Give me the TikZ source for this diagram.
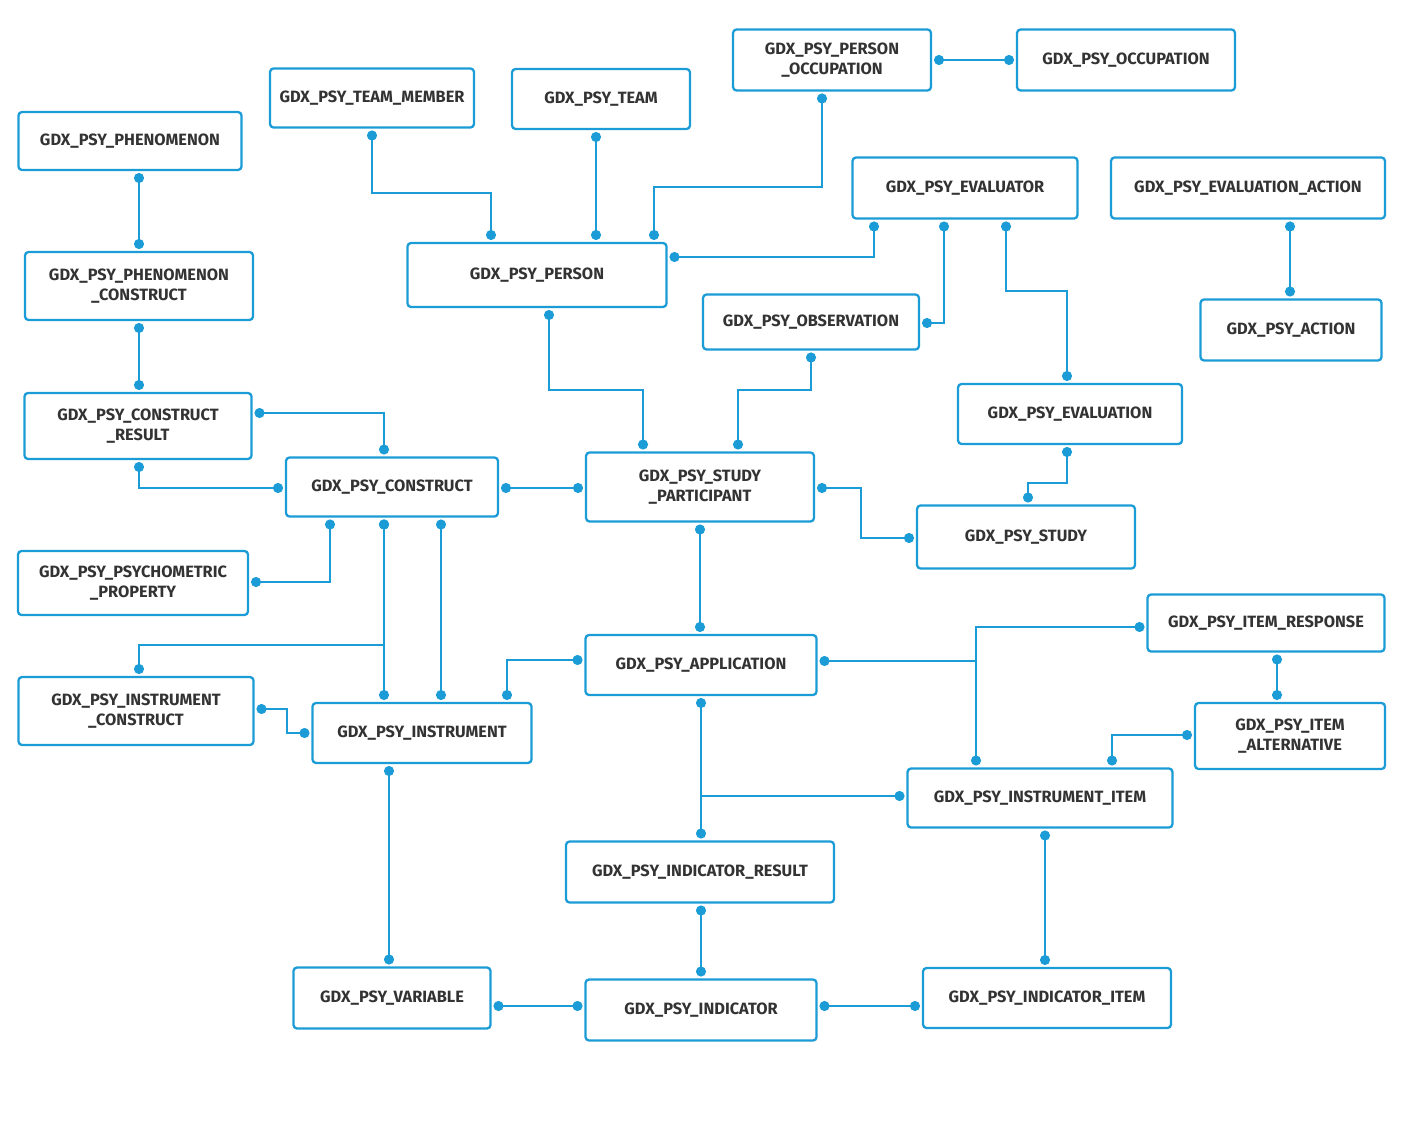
\documentclass[tikz,border=0pt]{standalone}
\usepackage{fontspec}
\setsansfont{Fira Sans}
\usetikzlibrary{arrows.meta}
\definecolor{gdxblue}{HTML}{1B9CD6}
\begin{document}
\begin{tikzpicture}[x=0.2mm, y=-0.2mm, line width=1.3pt,
    box/.style={draw=gdxblue, rounded corners=2pt, align=center, outer sep=0.6mm,
      font=\sffamily\fontsize{9.3}{11.5}\selectfont\bfseries, text=black!80, fill=white},
    link/.style={draw=gdxblue, {Circle[length=2mm]}-{Circle[length=2mm]}}]

    \useasboundingbox (0,0) rectangle (1402,1122);

    % left column
    \node[box, minimum width=44.6mm, minimum height=11.6mm] (phen) at (130,141) {GDX\_PSY\_PHENOMENON};
    \node[box, minimum width=45.6mm, minimum height=13.6mm] (phencon) at (139,286) {GDX\_PSY\_PHENOMENON\\\_CONSTRUCT};
    \node[box, minimum width=45.4mm, minimum height=13.2mm] (conres) at (138,426) {GDX\_PSY\_CONSTRUCT\\\_RESULT};
    \node[box, minimum width=42.4mm, minimum height=11.8mm] (construct) at (392,487) {GDX\_PSY\_CONSTRUCT};
    \node[box, minimum width=46mm, minimum height=12.8mm] (psyprop) at (133,583) {GDX\_PSY\_PSYCHOMETRIC\\\_PROPERTY};
    \node[box, minimum width=47mm, minimum height=13.6mm] (instcon) at (136,711) {GDX\_PSY\_INSTRUMENT\\\_CONSTRUCT};
    \node[box, minimum width=43.8mm, minimum height=12mm] (instrument) at (422,733) {GDX\_PSY\_INSTRUMENT};
    \node[box, minimum width=39.4mm, minimum height=12.2mm] (variable) at (392,998) {GDX\_PSY\_VARIABLE};

    % top row
    \node[box, minimum width=40.8mm, minimum height=11.8mm] (teammember) at (372,98) {GDX\_PSY\_TEAM\_MEMBER};
    \node[box, minimum width=35.6mm, minimum height=12mm] (team) at (601,99) {GDX\_PSY\_TEAM};
    \node[box, minimum width=39.6mm, minimum height=12.2mm] (personocc) at (832,60) {GDX\_PSY\_PERSON\\\_OCCUPATION};
    \node[box, minimum width=43.6mm, minimum height=12.2mm] (occupation) at (1126,60) {GDX\_PSY\_OCCUPATION};
    \node[box, minimum width=51.8mm, minimum height=12.8mm] (person) at (537,275) {GDX\_PSY\_PERSON};
    \node[box, minimum width=45mm, minimum height=12.2mm] (evaluator) at (965,188) {GDX\_PSY\_EVALUATOR};
    \node[box, minimum width=54.8mm, minimum height=12.2mm] (evalaction) at (1248,188) {GDX\_PSY\_EVALUATION\_ACTION};
    \node[box, minimum width=36.2mm, minimum height=12.2mm] (action) at (1291,330) {GDX\_PSY\_ACTION};
    \node[box, minimum width=43.2mm, minimum height=11mm] (observation) at (811,322) {GDX\_PSY\_OBSERVATION};
    \node[box, minimum width=44.8mm, minimum height=12mm] (evaluation) at (1070,414) {GDX\_PSY\_EVALUATION};

    % middle
    \node[box, minimum width=45.6mm, minimum height=13.8mm] (participant) at (700,487) {GDX\_PSY\_STUDY\\\_PARTICIPANT};
    \node[box, minimum width=43.6mm, minimum height=12.6mm] (study) at (1026,537) {GDX\_PSY\_STUDY};
    \node[box, minimum width=46.2mm, minimum height=12mm] (application) at (701,665) {GDX\_PSY\_APPLICATION};
    \node[box, minimum width=47.4mm, minimum height=11.4mm] (itemresp) at (1266,623) {GDX\_PSY\_ITEM\_RESPONSE};
    \node[box, minimum width=38mm, minimum height=13.2mm] (itemalt) at (1290,736) {GDX\_PSY\_ITEM\\\_ALTERNATIVE};
    \node[box, minimum width=53mm, minimum height=11.8mm] (institem) at (1040,798) {GDX\_PSY\_INSTRUMENT\_ITEM};

    % bottom
    \node[box, minimum width=53.6mm, minimum height=12.2mm] (indres) at (700,872) {GDX\_PSY\_INDICATOR\_RESULT};
    \node[box, minimum width=46.2mm, minimum height=12.2mm] (indicator) at (701,1010) {GDX\_PSY\_INDICATOR};
    \node[box, minimum width=49.6mm, minimum height=12mm] (inditem) at (1047,998) {GDX\_PSY\_INDICATOR\_ITEM};

    % links, left side
    \draw[link] (phen.south -| 139,0) -- (phencon.north -| 139,0);
    \draw[link] (phencon.south -| 139,0) -- (conres.north -| 139,0);
    \draw[link] (conres.east |- 0,413) -| (construct.north -| 384,0);
    \draw[link] (conres.south -| 139,0) |- (construct.west |- 0,488);
    \draw[link] (construct.east |- 0,488) -- (participant.west |- 0,488);
    \draw[link] (construct.south -| 330,0) |- (psyprop.east |- 0,582);
    \draw[link] (construct.south -| 384,0) -- (instrument.north -| 384,0);
    \draw[link] (construct.south -| 384,0) -- (384,645) -| (instcon.north -| 139,0);
    \draw[link] (construct.south -| 441,0) -- (instrument.north -| 441,0);
    \draw[link] (instcon.east |- 0,709) -- (287,709) |- (instrument.west |- 0,733);
    \draw[link] (instrument.north -| 507,0) |- (application.west |- 0,660);
    \draw[link] (instrument.south -| 389,0) -- (variable.north -| 389,0);
    \draw[link] (variable.east |- 0,1006) -- (indicator.west |- 0,1006);

    % links, top
    \draw[link] (teammember.south -| 372,0) |- (491,193) -- (person.north -| 491,0);
    \draw[link] (team.south -| 596,0) -- (person.north -| 596,0);
    \draw[link] (personocc.south -| 822,0) |- (654,187) -- (person.north -| 654,0);
    \draw[link] (personocc.east |- 0,60) -- (occupation.west |- 0,60);
    \draw[link] (evaluator.south -| 874,0) |- (person.east |- 0,257);
    \draw[link] (evaluator.south -| 944,0) |- (observation.east |- 0,323);
    \draw[link] (evaluator.south -| 1006,0) |- (1067,291) -- (evaluation.north -| 1067,0);
    \draw[link] (evalaction.south -| 1290,0) -- (action.north -| 1290,0);
    \draw[link] (person.south -| 549,0) |- (643,390) -- (participant.north -| 643,0);
    \draw[link] (observation.south -| 811,0) |- (738,390) -- (participant.north -| 738,0);
    \draw[link] (evaluation.south -| 1067,0) |- (1028,483) -- (study.north -| 1028,0);
    \draw[link] (participant.east |- 0,488) -- (861,488) |- (study.west |- 0,538);

    % links, middle and bottom
    \draw[link] (participant.south -| 700,0) -- (application.north -| 700,0);
    \draw[link] (application.east |- 0,661) -| (institem.north -| 976,0);
    \draw[link, {Circle[length=2mm]}-] (itemresp.west |- 0,627) -| (976,661);
    \draw[link] (itemresp.south -| 1277,0) -- (itemalt.north -| 1277,0);
    \draw[link] (itemalt.west |- 0,735) -| (institem.north -| 1112,0);
    \draw[link] (application.south -| 701,0) -- (indres.north -| 701,0);
    \draw[link, {Circle[length=2mm]}-] (institem.west |- 0,796) -| (701,834);
    \draw[link] (indres.south -| 701,0) -- (indicator.north -| 701,0);
    \draw[link] (indicator.east |- 0,1006) -- (inditem.west |- 0,1006);
    \draw[link] (institem.south -| 1045,0) -- (inditem.north -| 1045,0);

\end{tikzpicture}
\end{document}
